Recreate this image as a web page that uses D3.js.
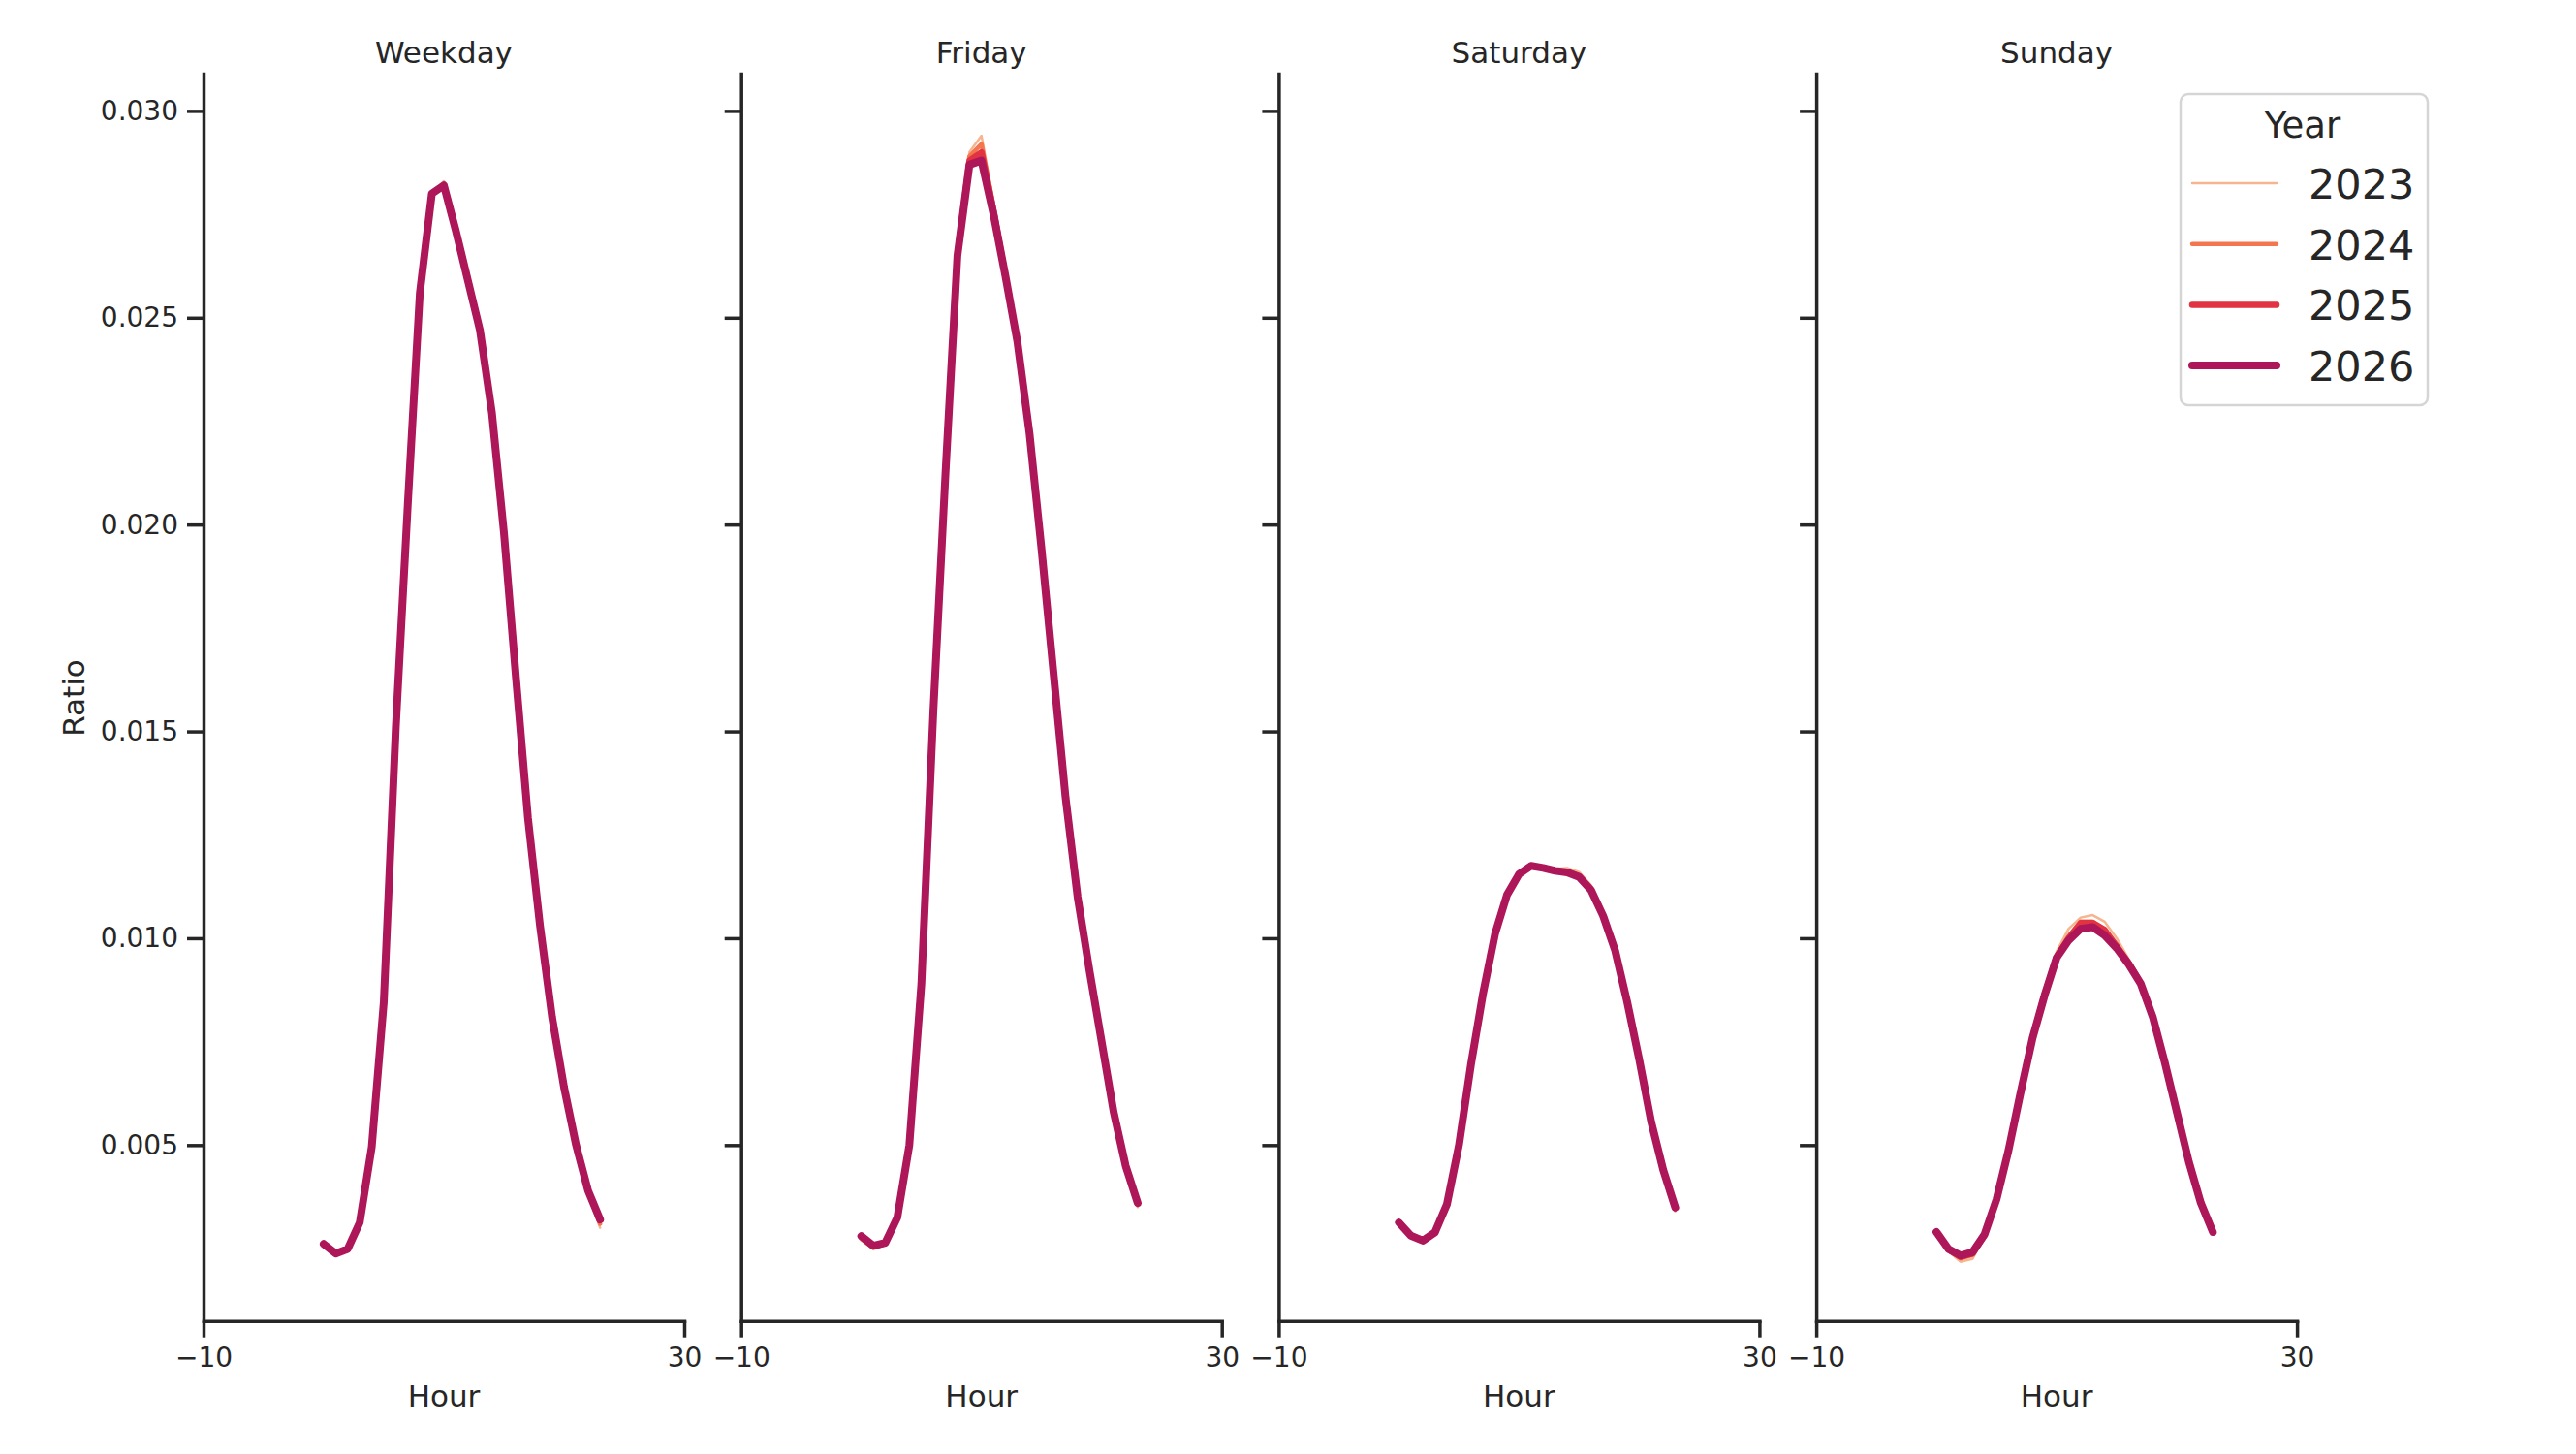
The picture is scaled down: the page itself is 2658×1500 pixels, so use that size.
<!DOCTYPE html>
<html>
<head>
<meta charset="utf-8">
<script src="https://cdn.jsdelivr.net/npm/d3@7"></script>
<style>
  body { margin: 0; background: #fff; }
  text { font-family: "DejaVu Sans", sans-serif; fill: #262626; }
</style>
</head>
<body>
<div id="chart"></div>
<script>
// categories
var hours = [0, 1, 2, 3, 4, 5, 6, 7, 8, 9, 10, 11, 12, 13, 14, 15, 16, 17, 18, 19, 20, 21, 22, 23];
var dayTypes = ["Weekday", "Friday", "Saturday", "Sunday"];
var years = ["2023", "2024", "2025", "2026"];
var yTicks = [0.005, 0.010, 0.015, 0.020, 0.025, 0.030];
var xTicks = [-10, 30];

// hourly ratio
var weekday2023 = [0.00258, 0.00234, 0.00246, 0.00312, 0.00494, 0.00846, 0.0151, 0.0205, 0.0256, 0.0280, 0.0283, 0.0272, 0.0261, 0.0249, 0.0228, 0.0198, 0.0163, 0.0129, 0.0103, 0.0081, 0.0064, 0.0050, 0.0038, 0.0030];
var weekday2024 = [0.00259, 0.00236, 0.00248, 0.00313, 0.00495, 0.00846, 0.0151, 0.0205, 0.0256, 0.0280, 0.0282, 0.0272, 0.0260, 0.0248, 0.0227, 0.0198, 0.0163, 0.0129, 0.0103, 0.0081, 0.0064, 0.0050, 0.0039, 0.0031];
var weekday2025 = [0.00260, 0.00237, 0.00249, 0.00313, 0.00496, 0.00846, 0.0151, 0.0205, 0.0256, 0.0280, 0.0282, 0.0271, 0.0259, 0.0247, 0.0227, 0.0198, 0.0163, 0.0129, 0.0103, 0.0081, 0.0064, 0.0050, 0.0039, 0.0032];
var weekday2026 = [0.00261, 0.00238, 0.00249, 0.00313, 0.00496, 0.00846, 0.0151, 0.0205, 0.0256, 0.0280, 0.0282, 0.0271, 0.0259, 0.0247, 0.0227, 0.0198, 0.0163, 0.0129, 0.0103, 0.0081, 0.0064, 0.0050, 0.0039, 0.0032];

var friday2023 = [0.00270, 0.00248, 0.00260, 0.00322, 0.0050, 0.0089, 0.0155, 0.0213, 0.0267, 0.0290, 0.0294, 0.0278, 0.0262, 0.0245, 0.0223, 0.0194, 0.0164, 0.0134, 0.0110, 0.0092, 0.0075, 0.0058, 0.0045, 0.0035];
var friday2024 = [0.00274, 0.00252, 0.00262, 0.00324, 0.0050, 0.0089, 0.0155, 0.0212, 0.0266, 0.0289, 0.0292, 0.0277, 0.0261, 0.0245, 0.0222, 0.0194, 0.0164, 0.0134, 0.0110, 0.0092, 0.0075, 0.0058, 0.0045, 0.0036];
var friday2025 = [0.00278, 0.00255, 0.00263, 0.00325, 0.0050, 0.0089, 0.0155, 0.0212, 0.0265, 0.0288, 0.0290, 0.0276, 0.0260, 0.0244, 0.0222, 0.0194, 0.0164, 0.0134, 0.0110, 0.0092, 0.0075, 0.0058, 0.0045, 0.0036];
var friday2026 = [0.00280, 0.00257, 0.00264, 0.00325, 0.0050, 0.0089, 0.0155, 0.0212, 0.0265, 0.0287, 0.0288, 0.0275, 0.0260, 0.0244, 0.0222, 0.0194, 0.0164, 0.0134, 0.0110, 0.0092, 0.0075, 0.0058, 0.0045, 0.0036];

var saturday2023 = [0.00313, 0.00280, 0.00268, 0.00288, 0.00356, 0.0050, 0.00695, 0.00866, 0.0101, 0.01105, 0.01155, 0.01176, 0.01172, 0.01168, 0.01170, 0.01160, 0.01128, 0.01060, 0.0097, 0.00846, 0.00705, 0.00553, 0.0043, 0.00340];
var saturday2024 = [0.00313, 0.00281, 0.00269, 0.00289, 0.00357, 0.0050, 0.00695, 0.00866, 0.0101, 0.01105, 0.01155, 0.01175, 0.01171, 0.01165, 0.01163, 0.01153, 0.01120, 0.01056, 0.0097, 0.00846, 0.00706, 0.00555, 0.0044, 0.00345];
var saturday2025 = [0.00313, 0.00281, 0.00269, 0.00289, 0.00357, 0.0050, 0.00695, 0.00866, 0.0101, 0.01105, 0.01155, 0.01175, 0.0117, 0.01163, 0.01160, 0.01149, 0.01117, 0.01054, 0.0097, 0.00846, 0.00707, 0.00556, 0.0044, 0.00348];
var saturday2026 = [0.00313, 0.00281, 0.00269, 0.00289, 0.00357, 0.0050, 0.00695, 0.00866, 0.0101, 0.01105, 0.01155, 0.01175, 0.0117, 0.01163, 0.01159, 0.01148, 0.01116, 0.01054, 0.0097, 0.00846, 0.00707, 0.00556, 0.0044, 0.00349];

var sunday2023 = [0.00287, 0.00243, 0.00218, 0.00225, 0.00278, 0.00366, 0.00488, 0.00630, 0.00765, 0.00872, 0.00968, 0.01023, 0.0105, 0.01056, 0.0104, 0.0100, 0.0095, 0.0090, 0.0081, 0.0070, 0.0058, 0.0046, 0.0036, 0.0029];
var sunday2024 = [0.00289, 0.00246, 0.00226, 0.00234, 0.00281, 0.00368, 0.00488, 0.00628, 0.00761, 0.00866, 0.00958, 0.01005, 0.0104, 0.0104, 0.0102, 0.00985, 0.0094, 0.0089, 0.0081, 0.0070, 0.0058, 0.0046, 0.0036, 0.0029];
var sunday2025 = [0.00290, 0.00248, 0.00230, 0.00238, 0.00283, 0.00369, 0.00488, 0.00627, 0.00760, 0.00864, 0.00955, 0.01000, 0.01037, 0.01037, 0.0102, 0.00980, 0.0094, 0.0089, 0.0081, 0.0070, 0.0058, 0.0046, 0.0036, 0.0029];
var sunday2026 = [0.00290, 0.00249, 0.00233, 0.00241, 0.00284, 0.00369, 0.00488, 0.00627, 0.00759, 0.00862, 0.00953, 0.00995, 0.01023, 0.01027, 0.01007, 0.00976, 0.00937, 0.0089, 0.0081, 0.0070, 0.0058, 0.0046, 0.0036, 0.0029];

var series = {
    "Weekday": [weekday2023, weekday2024, weekday2025, weekday2026],
    "Friday": [friday2023, friday2024, friday2025, friday2026],
    "Saturday": [saturday2023, saturday2024, saturday2025, saturday2026],
    "Sunday": [sunday2023, sunday2024, sunday2025, sunday2026]
};

var colors = ["#f6b48f", "#f37651", "#e13342", "#ad1759"];
var widths = [2.5, 4.5, 6.5, 8];

var W = 2658, H = 1500;
var plotTop = 76, plotBottom = 1362.7;
var panelLeft = [210, 764.7, 1319.4, 1874.1];
var panelWidth = 496;
var ink = "#262626";

var svg = d3.select("#chart")
    .append("svg")
    .attr("width", W)
    .attr("height", H);

svg.append("rect")
    .attr("width", W)
    .attr("height", H)
    .attr("fill", "#fff");

var y = d3.scaleLinear()
    .domain([0.00075, 0.0309])
    .range([plotBottom, plotTop]);

dayTypes.forEach(function(day, p) {
    var left = panelLeft[p];
    var x = d3.scaleLinear()
        .domain([-10, 30])
        .range([left, left + panelWidth]);

    var g = svg.append("g");

    // lines, 2023 first so 2026 ends on top
    var line = d3.line()
        .x(function(d, i) { return x(hours[i]); })
        .y(function(d) { return y(d); });

    series[day].forEach(function(vals, k) {
        g.append("path")
            .datum(vals)
            .attr("fill", "none")
            .attr("stroke", colors[k])
            .attr("stroke-width", widths[k])
            .attr("stroke-linejoin", "round")
            .attr("stroke-linecap", "round")
            .attr("d", line);
    });

    // y axis
    var yAxis = d3.axisLeft(y)
        .tickValues(yTicks)
        .tickSizeInner(17)
        .tickSizeOuter(0)
        .tickPadding(9)
        .tickFormat(p === 0 ? d3.format(".3f") : function() { return ""; });

    var ya = g.append("g")
        .attr("transform", "translate(" + left + ",0)")
        .call(yAxis);

    // x axis
    var xAxis = d3.axisBottom(x)
        .tickValues(xTicks)
        .tickSizeInner(17)
        .tickSizeOuter(0)
        .tickPadding(10)
        .tickFormat(d3.format("d"));

    var xa = g.append("g")
        .attr("transform", "translate(0," + plotBottom + ")")
        .call(xAxis);

    [ya, xa].forEach(function(a) {
        a.select(".domain")
            .attr("stroke", ink)
            .attr("stroke-width", 3.5)
            .attr("stroke-linecap", "square");
        a.selectAll(".tick line")
            .attr("stroke", ink)
            .attr("stroke-width", 3.5);
        a.selectAll(".tick text")
            .style("font-family", "DejaVu Sans")
            .style("font-size", "28px")
            .attr("fill", ink);
    });

    // title
    g.append("text")
        .attr("x", left + panelWidth / 2)
        .attr("y", 65)
        .attr("text-anchor", "middle")
        .style("font-size", "31px")
        .text(day);

    // x label
    g.append("text")
        .attr("x", left + panelWidth / 2)
        .attr("y", 1451)
        .attr("text-anchor", "middle")
        .style("font-size", "31px")
        .text("Hour");
});

// y label
svg.append("text")
    .attr("transform", "translate(87,720) rotate(-90)")
    .attr("text-anchor", "middle")
    .style("font-size", "31px")
    .text("Ratio");

// legend
var legend = svg.append("g");

legend.append("rect")
    .attr("x", 2250)
    .attr("y", 97)
    .attr("width", 255)
    .attr("height", 321)
    .attr("rx", 8)
    .attr("fill", "#fff")
    .attr("stroke", "#d5d5d5")
    .attr("stroke-width", 2.5);

legend.append("text")
    .attr("x", 2376)
    .attr("y", 142)
    .attr("text-anchor", "middle")
    .style("font-size", "37px")
    .text("Year");

years.forEach(function(yr, k) {
    var cy = 189 + k * 62.7;
    legend.append("line")
        .attr("x1", 2262)
        .attr("x2", 2349)
        .attr("y1", cy)
        .attr("y2", cy)
        .attr("stroke", colors[k])
        .attr("stroke-width", widths[k])
        .attr("stroke-linecap", "round");
    legend.append("text")
        .attr("x", 2382)
        .attr("y", cy + 16)
        .style("font-size", "43px")
        .text(yr);
});
</script>
</body>
</html>
